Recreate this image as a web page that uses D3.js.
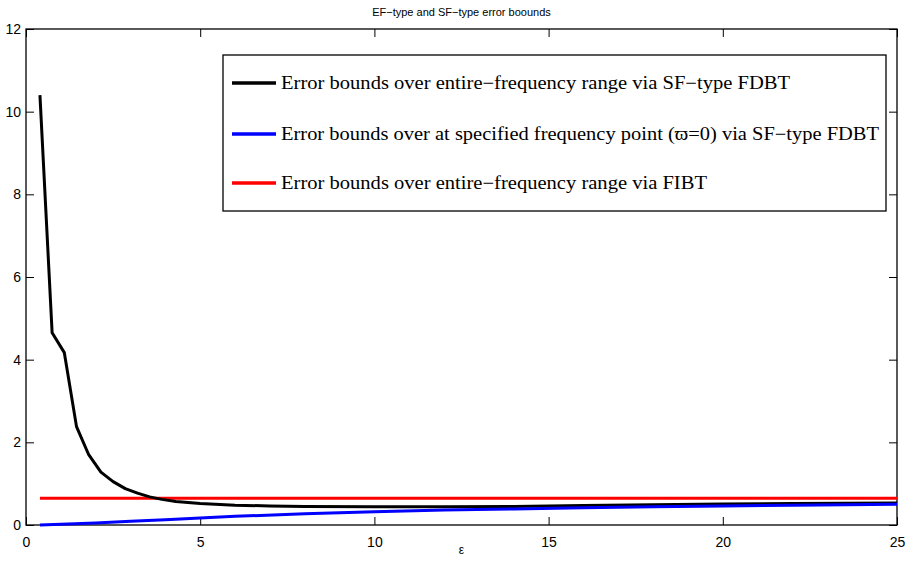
<!DOCTYPE html>
<html><head><meta charset="utf-8">
<script src="https://cdn.jsdelivr.net/npm/d3@7"></script>
<style>body{margin:0;background:#fff}svg{display:block}</style>
</head><body>
<script>
const xBlack = [0.4,0.75,1.1,1.45,1.8,2.15,2.5,2.85,3.2,3.55,3.9,4.3,5,6,7,8,10,12,14,16,18,20,22,25];
const yBlack = [10.4,4.65,4.17,2.38,1.70,1.28,1.05,0.88,0.77,0.68,0.62,0.57,0.52,0.48,0.46,0.45,0.44,0.44,0.45,0.47,0.49,0.51,0.52,0.53];
const xBlue = [0.4,1,2,3,4,5,6,8,10,12,14,16,18,20,22,25];
const yBlue = [0.0,0.02,0.05,0.09,0.13,0.17,0.21,0.27,0.32,0.36,0.39,0.42,0.44,0.46,0.48,0.50];
const xRed = [0.4,25];
const yRed = [0.65,0.65];
const xTicks = [0,5,10,15,20,25];
const yTicks = [0,2,4,6,8,10,12];
const legendLabels = [
  "Error bounds over entire\u2212frequency range via SF\u2212type FDBT",
  "Error bounds over at specified frequency point (\u03D6=0) via SF\u2212type FDBT",
  "Error bounds over entire\u2212frequency range via FIBT"
];
const colors = ["#000000","#0000ff","#ff0000"];

const W=907,H=563;
const L=26,R=897,T=29,B=525;
const svg=d3.select("body").append("svg").attr("width",W).attr("height",H);
const x=d3.scaleLinear().domain([0,25]).range([L,R]);
const y=d3.scaleLinear().domain([0,12]).range([B,T]);
const font="Helvetica, Arial, 'Liberation Sans', sans-serif";

const gx=svg.append("g").attr("transform",`translate(0,${B})`)
  .call(d3.axisBottom(x).tickValues(xTicks).tickSize(-8).tickPadding(12).tickFormat(d3.format("d")));
const gxt=svg.append("g").attr("transform",`translate(0,${T})`)
  .call(d3.axisTop(x).tickValues(xTicks).tickSize(-8).tickFormat(""));
const gy=svg.append("g").attr("transform",`translate(${L},0)`)
  .call(d3.axisLeft(y).tickValues(yTicks).tickSize(-8).tickPadding(13).tickFormat(d3.format("d")));
const gyr=svg.append("g").attr("transform",`translate(${R},0)`)
  .call(d3.axisRight(y).tickValues(yTicks).tickSize(-8).tickFormat(""));
[gx,gxt,gy,gyr].forEach(g=>{
  g.select(".domain").remove();
  g.selectAll("line").attr("stroke","#000").attr("stroke-width",1);
  g.selectAll("text").attr("font-family",font).attr("font-size",14).attr("fill","#000");
});
gy.selectAll("text").attr("dx",8);
svg.append("rect").attr("x",L).attr("y",T).attr("width",R-L).attr("height",B-T)
  .attr("fill","none").attr("stroke","#000").attr("stroke-width",1.3);

const line=d3.line().x(d=>x(d[0])).y(d=>y(d[1]));
const series=[[xBlack,yBlack],[xBlue,yBlue],[xRed,yRed]];
[2,0,1].forEach(i=>{
  const [xs,ys]=series[i];
  svg.append("path").datum(xs.map((v,k)=>[v,ys[k]]))
    .attr("d",line).attr("fill","none").attr("stroke",colors[i])
    .attr("stroke-width",3).attr("stroke-linejoin","round");
});

svg.append("text").attr("x",(L+R)/2).attr("y",16).attr("text-anchor","middle")
  .attr("font-family",font).attr("font-size",11).text("EF\u2212type and SF\u2212type error boounds");
svg.append("text").attr("x",(L+R)/2).attr("y",554).attr("text-anchor","middle")
  .attr("font-family",font).attr("font-size",12).text("\u03B5");

const lg=svg.append("g");
lg.append("rect").attr("x",223).attr("y",55).attr("width",663).attr("height",156)
  .attr("fill","#fff").attr("stroke","#000").attr("stroke-width",1.3);
const rowsY=[83,134,183];
const textW=[509,598,426];
legendLabels.forEach((t,i)=>{
  lg.append("line").attr("x1",232).attr("x2",276).attr("y1",rowsY[i]).attr("y2",rowsY[i])
    .attr("stroke",colors[i]).attr("stroke-width",3.5);
  lg.append("text").attr("x",281).attr("y",rowsY[i]+6)
    .attr("font-family","'Liberation Serif','Times New Roman',serif").attr("font-size",18)
    .attr("textLength",textW[i]).attr("lengthAdjust","spacingAndGlyphs").text(t);
});
</script>
</body></html>
